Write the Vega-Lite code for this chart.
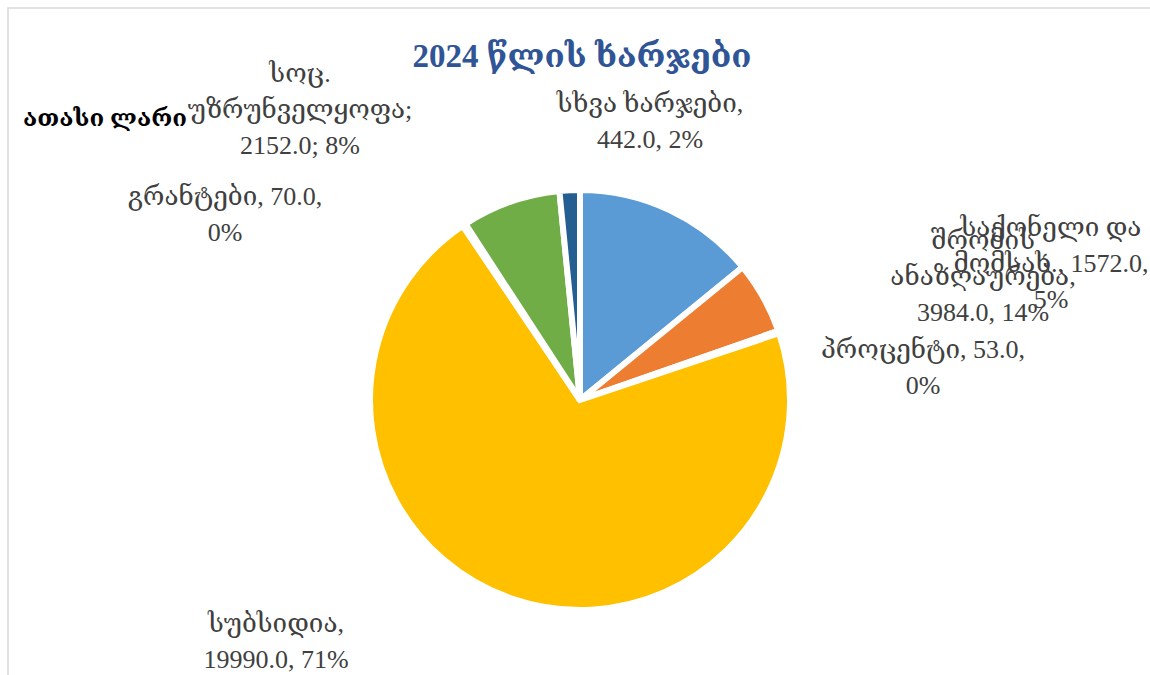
{
  "$schema": "https://vega.github.io/schema/vega-lite/v6.json",
  "width": 1144,
  "height": 784,
  "autosize": {"type": "none"},
  "padding": {"left": 8, "top": 8, "right": 0, "bottom": 0},
  "background": "white",
  "view": {"stroke": "#D9D9D9", "strokeWidth": 1.5, "fill": "white"},
  "data": {"values": [
    {"cat": "შრომის ანაზღაურება", "value": 3984.0, "order": 1, "label": "შრომის\nანაზღაურება,\n3984.0, 14%"},
    {"cat": "საქონელი და მომსახ.", "value": 1572.0, "order": 2, "label": "საქონელი და\nმომსახ., 1572.0,\n5%"},
    {"cat": "პროცენტი", "value": 53.0, "order": 3, "label": "პროცენტი, 53.0,\n0%"},
    {"cat": "სუბსიდია", "value": 19990.0, "order": 4, "label": "სუბსიდია,\n19990.0, 71%"},
    {"cat": "გრანტები", "value": 70.0, "order": 5, "label": "გრანტები, 70.0,\n0%"},
    {"cat": "სოც. უზრუნველყოფა", "value": 2152.0, "order": 6, "label": "სოც.\nუზრუნველყოფა;\n2152.0; 8%"},
    {"cat": "სხვა ხარჯები", "value": 442.0, "order": 7, "label": "სხვა ხარჯები,\n442.0, 2%"}
  ]},
  "layer": [
    {
      "mark": {"type": "arc", "outerRadius": 210, "stroke": "white", "strokeWidth": 6},
      "encoding": {
        "theta": {"field": "value", "type": "quantitative", "stack": true},
        "order": {"field": "order", "type": "quantitative"},
        "color": {"field": "cat", "type": "nominal", "legend": null,
          "scale": {"domain": ["შრომის ანაზღაურება", "საქონელი და მომსახ.", "პროცენტი", "სუბსიდია", "გრანტები", "სოც. უზრუნველყოფა", "სხვა ხარჯები"],
                    "range": ["#5B9BD5", "#ED7D31", "#A5A5A5", "#FFC000", "#4472C4", "#70AD47", "#255E91"]}}
      }
    },
    {
      "transform": [{"filter": "datum.order == 1"}],
      "mark": {"type": "text", "dx": 403, "dy": -151, "align": "center", "baseline": "alphabetic", "lineBreak": "\n", "lineHeight": 36, "font": "Liberation Serif, DejaVu Serif, DejaVu Sans", "fontSize": 26, "color": "#404040"},
      "encoding": {"text": {"field": "label"}}
    },
    {
      "transform": [{"filter": "datum.order == 2"}],
      "mark": {"type": "text", "dx": 471, "dy": -164, "align": "center", "baseline": "alphabetic", "lineBreak": "\n", "lineHeight": 36, "font": "Liberation Serif, DejaVu Serif, DejaVu Sans", "fontSize": 26, "color": "#404040"},
      "encoding": {"text": {"field": "label"}}
    },
    {
      "transform": [{"filter": "datum.order == 3"}],
      "mark": {"type": "text", "dx": 343, "dy": -42, "align": "center", "baseline": "alphabetic", "lineBreak": "\n", "lineHeight": 36, "font": "Liberation Serif, DejaVu Serif, DejaVu Sans", "fontSize": 26, "color": "#404040"},
      "encoding": {"text": {"field": "label"}}
    },
    {
      "transform": [{"filter": "datum.order == 4"}],
      "mark": {"type": "text", "dx": -304, "dy": 232, "align": "center", "baseline": "alphabetic", "lineBreak": "\n", "lineHeight": 36, "font": "Liberation Serif, DejaVu Serif, DejaVu Sans", "fontSize": 26, "color": "#404040"},
      "encoding": {"text": {"field": "label"}}
    },
    {
      "transform": [{"filter": "datum.order == 5"}],
      "mark": {"type": "text", "dx": -355, "dy": -195, "align": "center", "baseline": "alphabetic", "lineBreak": "\n", "lineHeight": 36, "font": "Liberation Serif, DejaVu Serif, DejaVu Sans", "fontSize": 26, "color": "#404040"},
      "encoding": {"text": {"field": "label"}}
    },
    {
      "transform": [{"filter": "datum.order == 6"}],
      "mark": {"type": "text", "dx": -280, "dy": -318, "align": "center", "baseline": "alphabetic", "lineBreak": "\n", "lineHeight": 36, "font": "Liberation Serif, DejaVu Serif, DejaVu Sans", "fontSize": 26, "color": "#404040"},
      "encoding": {"text": {"field": "label"}}
    },
    {
      "transform": [{"filter": "datum.order == 7"}],
      "mark": {"type": "text", "dx": 70, "dy": -288, "align": "center", "baseline": "alphabetic", "lineBreak": "\n", "lineHeight": 36, "font": "Liberation Serif, DejaVu Serif, DejaVu Sans", "fontSize": 26, "color": "#404040"},
      "encoding": {"text": {"field": "label"}}
    },
    {
      "data": {"values": [{"t": "2024 წლის ხარჯები"}]},
      "mark": {"type": "text", "dx": 2, "dy": -333, "align": "center", "baseline": "alphabetic", "font": "Liberation Serif, DejaVu Serif, DejaVu Sans", "fontSize": 33, "fontWeight": "bold", "color": "#2F5597"},
      "encoding": {"text": {"field": "t"}}
    },
    {
      "data": {"values": [{"t": "ათასი ლარი"}]},
      "mark": {"type": "text", "dx": -475, "dy": -274, "align": "center", "baseline": "alphabetic", "font": "Liberation Serif, DejaVu Serif, DejaVu Sans", "fontSize": 24, "fontWeight": "bold", "color": "#000000"},
      "encoding": {"text": {"field": "t"}}
    }
  ]
}
